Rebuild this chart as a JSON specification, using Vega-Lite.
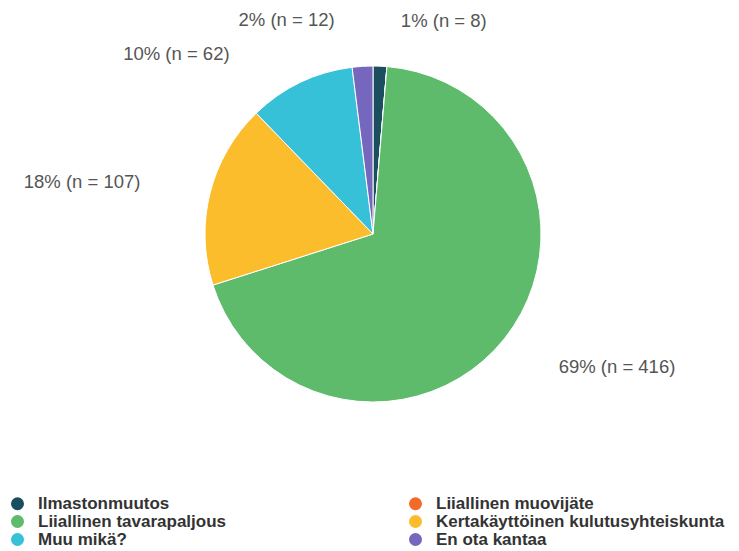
{
  "$schema": "https://vega.github.io/schema/vega-lite/v6.json",
  "width": 732,
  "height": 468,
  "padding": {"left": 7, "top": 0, "right": 0, "bottom": 0},
  "background": "white",
  "config": {"view": {"stroke": null}, "font": "Liberation Sans"},
  "data": {
    "values": [
      {"category": "Ilmastonmuutos", "n": 8, "rank": 1, "label": "1% (n = 8)", "side": "right"},
      {"category": "Liiallinen muovijäte", "n": 0, "rank": 2, "label": "", "side": "none"},
      {"category": "Liiallinen tavarapaljous", "n": 416, "rank": 3, "label": "69% (n = 416)", "side": "right"},
      {"category": "Kertakäyttöinen kulutusyhteiskunta", "n": 107, "rank": 4, "label": "18% (n = 107)", "side": "left"},
      {"category": "Muu mikä?", "n": 62, "rank": 5, "label": "10% (n = 62)", "side": "upperleft"},
      {"category": "En ota kantaa", "n": 12, "rank": 6, "label": "2% (n = 12)", "side": "left"}
    ]
  },
  "encoding": {
    "theta": {"field": "n", "type": "quantitative", "stack": true},
    "order": {"field": "rank", "type": "quantitative"}
  },
  "layer": [
    {
      "mark": {"type": "arc", "outerRadius": 168, "stroke": "white", "strokeWidth": 1},
      "encoding": {
        "color": {
          "field": "category",
          "type": "nominal",
          "scale": {
            "domain": ["Ilmastonmuutos", "Liiallinen muovijäte", "Liiallinen tavarapaljous", "Kertakäyttöinen kulutusyhteiskunta", "Muu mikä?", "En ota kantaa"],
            "range": ["#1b4f5f", "#f26b2a", "#5dbb6b", "#fbbd2c", "#37c1d9", "#7467bd"]
          },
          "legend": {
            "title": null,
            "orient": "none",
            "direction": "horizontal",
            "legendX": 2,
            "legendY": 495,
            "columns": 2,
            "columnPadding": 180,
            "rowPadding": 0,
            "symbolType": "circle",
            "symbolSize": 170,
            "symbolStrokeWidth": 0,
            "labelFont": "Liberation Sans",
            "labelFontSize": 17,
            "labelFontWeight": "bold",
            "labelColor": "#333333",
            "labelOffset": 12,
            "labelLimit": 400
          }
        }
      }
    },
    {
      "mark": {"type": "text", "radius": 213, "dx": 19, "align": "left", "baseline": "middle", "fontSize": 18.5, "color": "#555555"},
      "encoding": {
        "text": {"condition": {"test": "datum.side == 'right'", "field": "label"}, "value": ""}
      }
    },
    {
      "mark": {"type": "text", "radius": 214, "dx": -25, "align": "right", "baseline": "middle", "fontSize": 18.5, "color": "#555555"},
      "encoding": {
        "text": {"condition": {"test": "datum.side == 'left'", "field": "label"}, "value": ""}
      }
    },
    {
      "mark": {"type": "text", "radius": 200, "dx": -57, "align": "right", "baseline": "middle", "fontSize": 18.5, "color": "#555555"},
      "encoding": {
        "text": {"condition": {"test": "datum.side == 'upperleft'", "field": "label"}, "value": ""}
      }
    }
  ]
}
